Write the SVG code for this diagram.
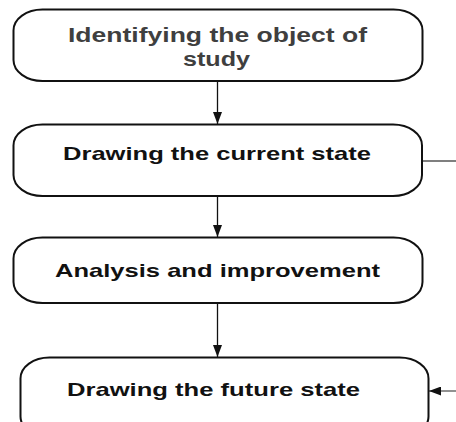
<svg xmlns="http://www.w3.org/2000/svg" width="456" height="422" viewBox="0 0 456 422">
  <defs>
    <marker id="arrow" viewBox="0 0 12 9" refX="12" refY="4.5" markerWidth="12" markerHeight="9" markerUnits="userSpaceOnUse" orient="auto">
      <path d="M0,0 L12,4.5 L0,9 Z" fill="#111"/>
    </marker>
    <style>
      .box { fill: #fff; stroke: #111; stroke-width: 2; }
      .label { font-family: "Liberation Sans", Arial, sans-serif; font-weight: bold; font-size: 19px; fill: #111; }
      .grey { fill: #3f3f3f; font-size: 20px; }
      .link { fill: none; stroke: #111; stroke-width: 1.3; }
      .side { fill: none; stroke: #555; stroke-width: 1.3; }
    </style>
  </defs>
  <rect width="456" height="422" fill="#fff"/>

  <g id="connectors">
    <line class="link" x1="217.5" y1="81" x2="217.5" y2="124" marker-end="url(#arrow)"/>
    <line class="link" x1="217.5" y1="196" x2="217.5" y2="237" marker-end="url(#arrow)"/>
    <line class="link" x1="217.5" y1="303" x2="217.5" y2="357" marker-end="url(#arrow)"/>
    <line class="side" x1="422" y1="161" x2="456" y2="161"/>
    <line class="side" x1="456" y1="391" x2="429" y2="391" marker-end="url(#arrow)"/>
  </g>

  <g id="node-identify">
    <rect class="box" x="13.5" y="9.5" width="409" height="71.5" rx="29" ry="21"/>
    <text class="label grey" x="68" y="42" textLength="299" lengthAdjust="spacingAndGlyphs">Identifying the object of</text>
    <text class="label grey" x="183" y="66" textLength="67" lengthAdjust="spacingAndGlyphs">study</text>
  </g>

  <g id="node-current">
    <rect class="box" x="13.5" y="124.5" width="408.5" height="71.5" rx="29" ry="21"/>
    <text class="label" x="63" y="159.5" textLength="308" lengthAdjust="spacingAndGlyphs">Drawing the current state</text>
  </g>

  <g id="node-analysis">
    <rect class="box" x="13.5" y="237.5" width="409" height="65.5" rx="29" ry="21"/>
    <text class="label" x="55" y="276.5" textLength="325" lengthAdjust="spacingAndGlyphs">Analysis and improvement</text>
  </g>

  <g id="node-future">
    <rect class="box" x="20.5" y="357.5" width="408" height="80" rx="29" ry="21"/>
    <text class="label" x="67" y="395.5" textLength="293" lengthAdjust="spacingAndGlyphs">Drawing the future state</text>
  </g>
</svg>
